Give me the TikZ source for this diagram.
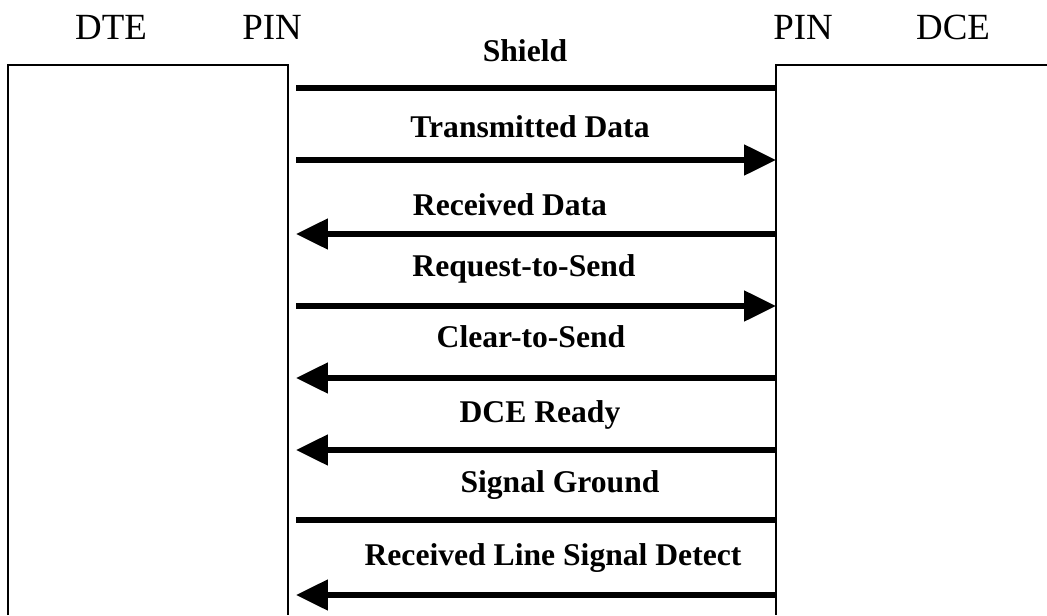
\documentclass[tikz,border=0pt]{standalone}
\usepackage{fontspec}
\setmainfont{Liberation Serif}
\usetikzlibrary{arrows.meta}

\tikzset{
    box/.style={line width=0.9pt},
    wire/.style={line width=2.9pt},
    tip/.style={-{Triangle[length=0.64cm, width=0.6cm]}},
    head/.style={font=\fontsize{21}{24}\selectfont, anchor=base},
    sig/.style={font=\fontsize{18}{21}\selectfont\bfseries, anchor=base}
}

\begin{document}
\begin{tikzpicture}[x=0.02cm, y=-0.02cm]

    \useasboundingbox (0,0) rectangle (1047,615);

    % the two ends
    \draw[box] (8,615) -- (8,65) -- (288,65) -- (288,615);
    \draw[box] (1047,65) -- (776,65) -- (776,615);

    \node[head] (dte)  at (111, 40) {DTE};
    \node[head] (pinl) at (272, 40) {PIN};
    \node[head] (pinr) at (803, 40) {PIN};
    \node[head] (dce)  at (953, 40) {DCE};

    % pin ends of every line
    \foreach \n/\y in {1/88,2/160,3/234,4/306,5/378,6/450,7/520,8/595} {
        \coordinate (l\n) at (296, \y);
        \coordinate (r\n) at (776, \y);
    }

    \node[sig] (shield) at (525, 62) {Shield};
    \draw[wire] (l1) -- (r1);

    \node[sig] (txd) at (530, 137) {Transmitted Data};
    \draw[wire, tip] (l2) -- (r2);

    \node[sig] (rxd) at (510, 215) {Received Data};
    \draw[wire, tip] (r3) -- (l3);

    \node[sig] (rts) at (524, 276) {Request-to-Send};
    \draw[wire, tip] (l4) -- (r4);

    \node[sig] (cts) at (531, 347) {Clear-to-Send};
    \draw[wire, tip] (r5) -- (l5);

    \node[sig] (dsr) at (540, 422) {DCE Ready};
    \draw[wire, tip] (r6) -- (l6);

    \node[sig] (gnd) at (560, 492) {Signal Ground};
    \draw[wire] (l7) -- (r7);

    \node[sig] (dcd) at (553, 565) {Received Line Signal Detect};
    \draw[wire, tip] (r8) -- (l8);

\end{tikzpicture}
\end{document}
